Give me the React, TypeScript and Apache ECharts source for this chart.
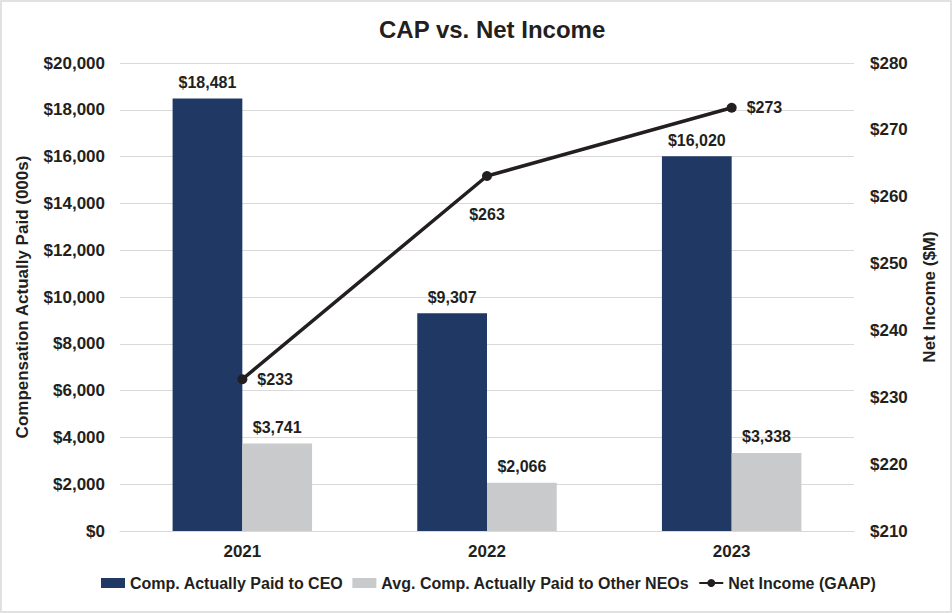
import React, { useEffect, useRef } from "react";
import * as echarts from "echarts";

const years = ["2021", "2022", "2023"];
const ceoCap = [18481, 9307, 16020];
const neoCap = [3741, 2066, 3338];
const netIncome = [232.7, 263.1, 273.3];
const netIncomeLabelPos = ["right", "bottom", "right"];

const FONT = '"Liberation Sans", Arial, Helvetica, sans-serif';
const TXT = "#231f20";

const money = (v: number) => "$" + Math.round(v).toLocaleString("en-US");

export default function App() {
  const ref = useRef<HTMLDivElement>(null);
  useEffect(() => {
    document.body.style.margin = "0";
    const chart = echarts.init(ref.current!, null, { renderer: "svg" });
    chart.setOption({
      animation: false,
      backgroundColor: "#ffffff",
      textStyle: { fontFamily: FONT },
      title: {
        text: "CAP vs. Net Income",
        left: 374,
        top: 12,
        textStyle: { fontFamily: FONT, fontSize: 24, fontWeight: "bold", color: TXT },
      },
      grid: { left: 120, right: 98, top: 63, bottom: 82 },
      legend: {
        bottom: 17,
        left: 96,
        itemGap: 9,
        itemWidth: 24,
        itemHeight: 10,
        textStyle: { fontFamily: FONT, fontSize: 16, fontWeight: "bold", color: TXT },
        data: [
          { name: "Comp. Actually Paid to CEO", icon: "rect" },
          { name: "Avg. Comp. Actually Paid to Other NEOs", icon: "rect" },
          { name: "Net Income (GAAP)" },
        ],
      },
      xAxis: {
        type: "category",
        data: years,
        axisTick: { show: false },
        axisLine: { show: true, lineStyle: { color: "#d9d9d9", width: 1 } },
        axisLabel: { margin: 12, fontFamily: FONT, fontSize: 17, fontWeight: "bold", color: TXT },
      },
      yAxis: [
        {
          type: "value",
          min: 0,
          max: 20000,
          interval: 2000,
          name: "Compensation Actually Paid (000s)",
          nameLocation: "middle",
          nameRotate: 90,
          nameGap: 89,
          nameTextStyle: { fontFamily: FONT, fontSize: 17, fontWeight: "bold", color: TXT },
          axisLine: { show: false },
          axisTick: { show: false },
          splitLine: { show: true, lineStyle: { color: "#d9d9d9", width: 1 } },
          axisLabel: {
            margin: 15,
            formatter: (v: number) => money(v),
            fontFamily: FONT,
            fontSize: 17,
            fontWeight: "bold",
            color: TXT,
          },
        },
        {
          type: "value",
          min: 210,
          max: 280,
          interval: 10,
          position: "right",
          name: "Net Income ($M)",
          nameLocation: "middle",
          nameRotate: 90,
          nameGap: 67,
          nameTextStyle: { fontFamily: FONT, fontSize: 17, fontWeight: "bold", color: TXT },
          axisLine: { show: false },
          axisTick: { show: false },
          splitLine: { show: false },
          axisLabel: {
            margin: 16,
            formatter: (v: number) => money(v),
            fontFamily: FONT,
            fontSize: 17,
            fontWeight: "bold",
            color: TXT,
          },
        },
      ],
      series: [
        {
          name: "Comp. Actually Paid to CEO",
          type: "bar",
          data: ceoCap,
          barGap: "0%",
          barCategoryGap: "43%",
          itemStyle: { color: "#1f3864" },
          label: {
            show: true,
            position: "top",
            distance: 8,
            formatter: (p: any) => money(p.value),
            fontFamily: FONT,
            fontSize: 16,
            fontWeight: "bold",
            color: TXT,
          },
        },
        {
          name: "Avg. Comp. Actually Paid to Other NEOs",
          type: "bar",
          data: neoCap,
          itemStyle: { color: "#c9cacc" },
          label: {
            show: true,
            position: "top",
            distance: 8,
            formatter: (p: any) => money(p.value),
            fontFamily: FONT,
            fontSize: 16,
            fontWeight: "bold",
            color: TXT,
          },
        },
        {
          name: "Net Income (GAAP)",
          type: "line",
          yAxisIndex: 1,
          data: netIncome.map((v, i) => ({
            value: v,
            label: { position: netIncomeLabelPos[i], distance: netIncomeLabelPos[i] === "bottom" ? 26 : 10 },
          })),
          symbol: "circle",
          symbolSize: 10,
          lineStyle: { color: "#231f20", width: 3.5 },
          itemStyle: { color: "#231f20" },
          label: {
            show: true,
            formatter: (p: any) => money(p.value),
            fontFamily: FONT,
            fontSize: 16,
            fontWeight: "bold",
            color: TXT,
          },
        },
      ],
    });
    return () => chart.dispose();
  }, []);
  return (
    <div style={{ position: "absolute", left: 0, top: 0, width: 952, height: 613 }}>
      <div ref={ref} style={{ width: 952, height: 613 }} />
      <div
        style={{
          position: "absolute",
          left: 0,
          top: 0,
          width: 952,
          height: 613,
          boxSizing: "border-box",
          border: "2px solid #e1e1e1",
          pointerEvents: "none",
        }}
      />
    </div>
  );
}
